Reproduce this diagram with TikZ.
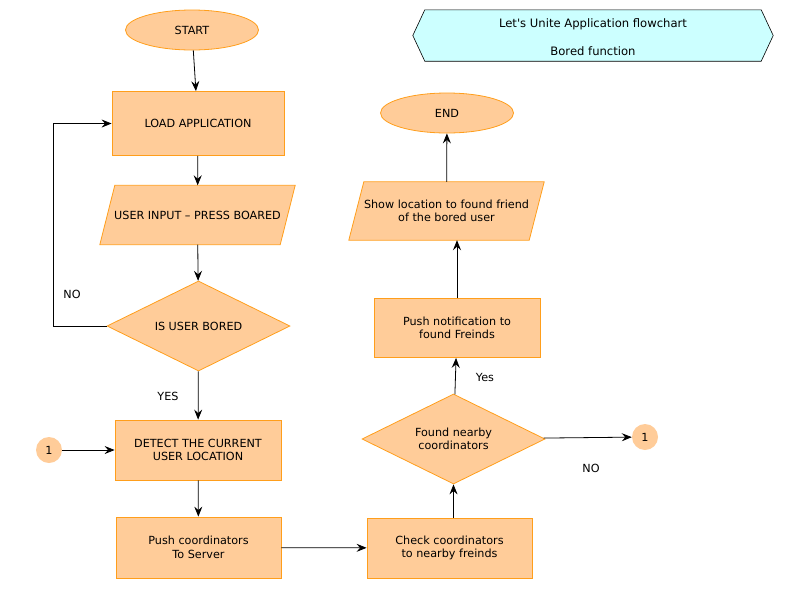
\documentclass[tikz,border=0pt]{standalone}
\usepackage{fontspec}
\setmainfont{DejaVu Sans}
\usetikzlibrary{shapes.geometric,arrows.meta,calc,backgrounds}

\definecolor{boxfill}{HTML}{FFCC99}
\definecolor{boxline}{HTML}{FF9E1B}
\definecolor{titlefill}{HTML}{CCFFFF}

\tikzset{
  every node/.style={font=\fontsize{11.2}{13.5}\selectfont},
  proc/.style={rectangle, draw=boxline, fill=boxfill, line width=0.8pt, align=center, inner sep=0pt},
  term/.style={ellipse, draw=boxline, fill=boxfill, line width=0.8pt, inner sep=0pt,
               minimum width=133, minimum height=40},
  decision/.style={diamond, aspect=2, draw=boxline, fill=boxfill, line width=0.8pt,
                   align=center, inner sep=0pt, minimum width=183, minimum height=90},
  joint/.style={circle, fill=boxfill, inner sep=0pt, minimum size=26},
  iotext/.style={rectangle, align=center, inner sep=0pt},
  ioshape/.style={draw=boxline, fill=boxfill, line width=0.8pt},
  banner/.style={draw=black, fill=titlefill, line width=0.6pt},
  flow/.style={draw=black, line width=0.8pt, -{Stealth[length=10pt,width=8pt,inset=3.5pt]}},
  lbl/.style={inner sep=0pt}
}

\begin{document}
\begin{tikzpicture}[x=1pt,y=-1pt]
  \useasboundingbox (0,0) rectangle (789,592);

  % title banner
  \node[iotext, minimum width=336, minimum height=51] (title) at (593,35.5) {};
  \node[iotext, font=\fontsize{11.6}{13.5}\selectfont] (titletext) at (593,37)
    {Let\textquotesingle s Unite Application flowchart\\[15pt]Bored function};

  % left column
  \node[term] (start) at (192,30) {START};
  \node[proc, minimum width=172, minimum height=64] (load) at (198,123.5) {LOAD APPLICATION};
  \node[iotext, minimum width=195, minimum height=59] (input) at (197.5,215)
    {USER INPUT – PRESS BOARED};
  \node[decision] (bored) at (198.5,326) {IS USER BORED};
  \node[proc, minimum width=166, minimum height=60] (detect) at (198,450)
    {DETECT THE CURRENT\\ USER LOCATION};
  \node[joint] (jin) at (49,450) {1};
  \node[proc, minimum width=165, minimum height=61] (push) at (198.5,547.5)
    {Push coordinators\\ To Server};

  % right column
  \node[proc, minimum width=165, minimum height=60] (check) at (449.5,548)
    {Check coordinators\\ to nearby freinds};
  \node[decision] (found) at (453.5,439) {Found nearby\\coordinators};
  \node[joint] (jout) at (645,437) {1};
  \node[proc, minimum width=166, minimum height=59] (notify) at (457,328)
    {Push notification to\\ found Freinds};
  \node[iotext, minimum width=195, minimum height=58] (show) at (446.5,211)
    {Show location to found friend\\of the bored user};
  \node[term] (end) at (447,113) {END};

  % outlines drawn behind the texts
  \begin{scope}[on background layer]
    \draw[banner] (title.north west) -- (title.north east)
      -- ($(title.east)+(12,0)$) -- (title.south east) -- (title.south west)
      -- ($(title.west)+(-12,0)$) -- cycle;
    \draw[ioshape] ($(input.north west)+(15,0)$) -- (input.north east)
      -- ($(input.south east)+(-15,0)$) -- (input.south west) -- cycle;
    \draw[ioshape] ($(show.north west)+(15,0)$) -- (show.north east)
      -- ($(show.south east)+(-15,0)$) -- (show.south west) -- cycle;
  \end{scope}

  % connectors
  \draw[flow] (start) -- (load);
  \draw[flow] (load) -- (input);
  \draw[flow] (input) -- (bored);
  \draw[flow] (bored.west) -- ++(-53,0) |- (load.west);
  \draw[flow] (bored) -- (detect);
  \draw[flow] (jin) -- (detect);
  \draw[flow] (detect) -- (push);
  \draw[flow] (push) -- (check);
  \draw[flow] (check.north -| found.south) -- (found.south);
  \draw[flow] (found) -- (jout);
  \draw[flow] (found) -- (notify);
  \draw[flow] (notify.north) -- (notify.north |- show.south);
  \draw[flow] (show) -- (end);

  % branch labels
  \node[lbl] (lno) at (72,294) {NO};
  \node[lbl] (lyes) at (168,396) {YES};
  \node[lbl] (ryes) at (485,377) {Yes};
  \node[lbl] (rno) at (591,468) {NO};
\end{tikzpicture}
\end{document}
